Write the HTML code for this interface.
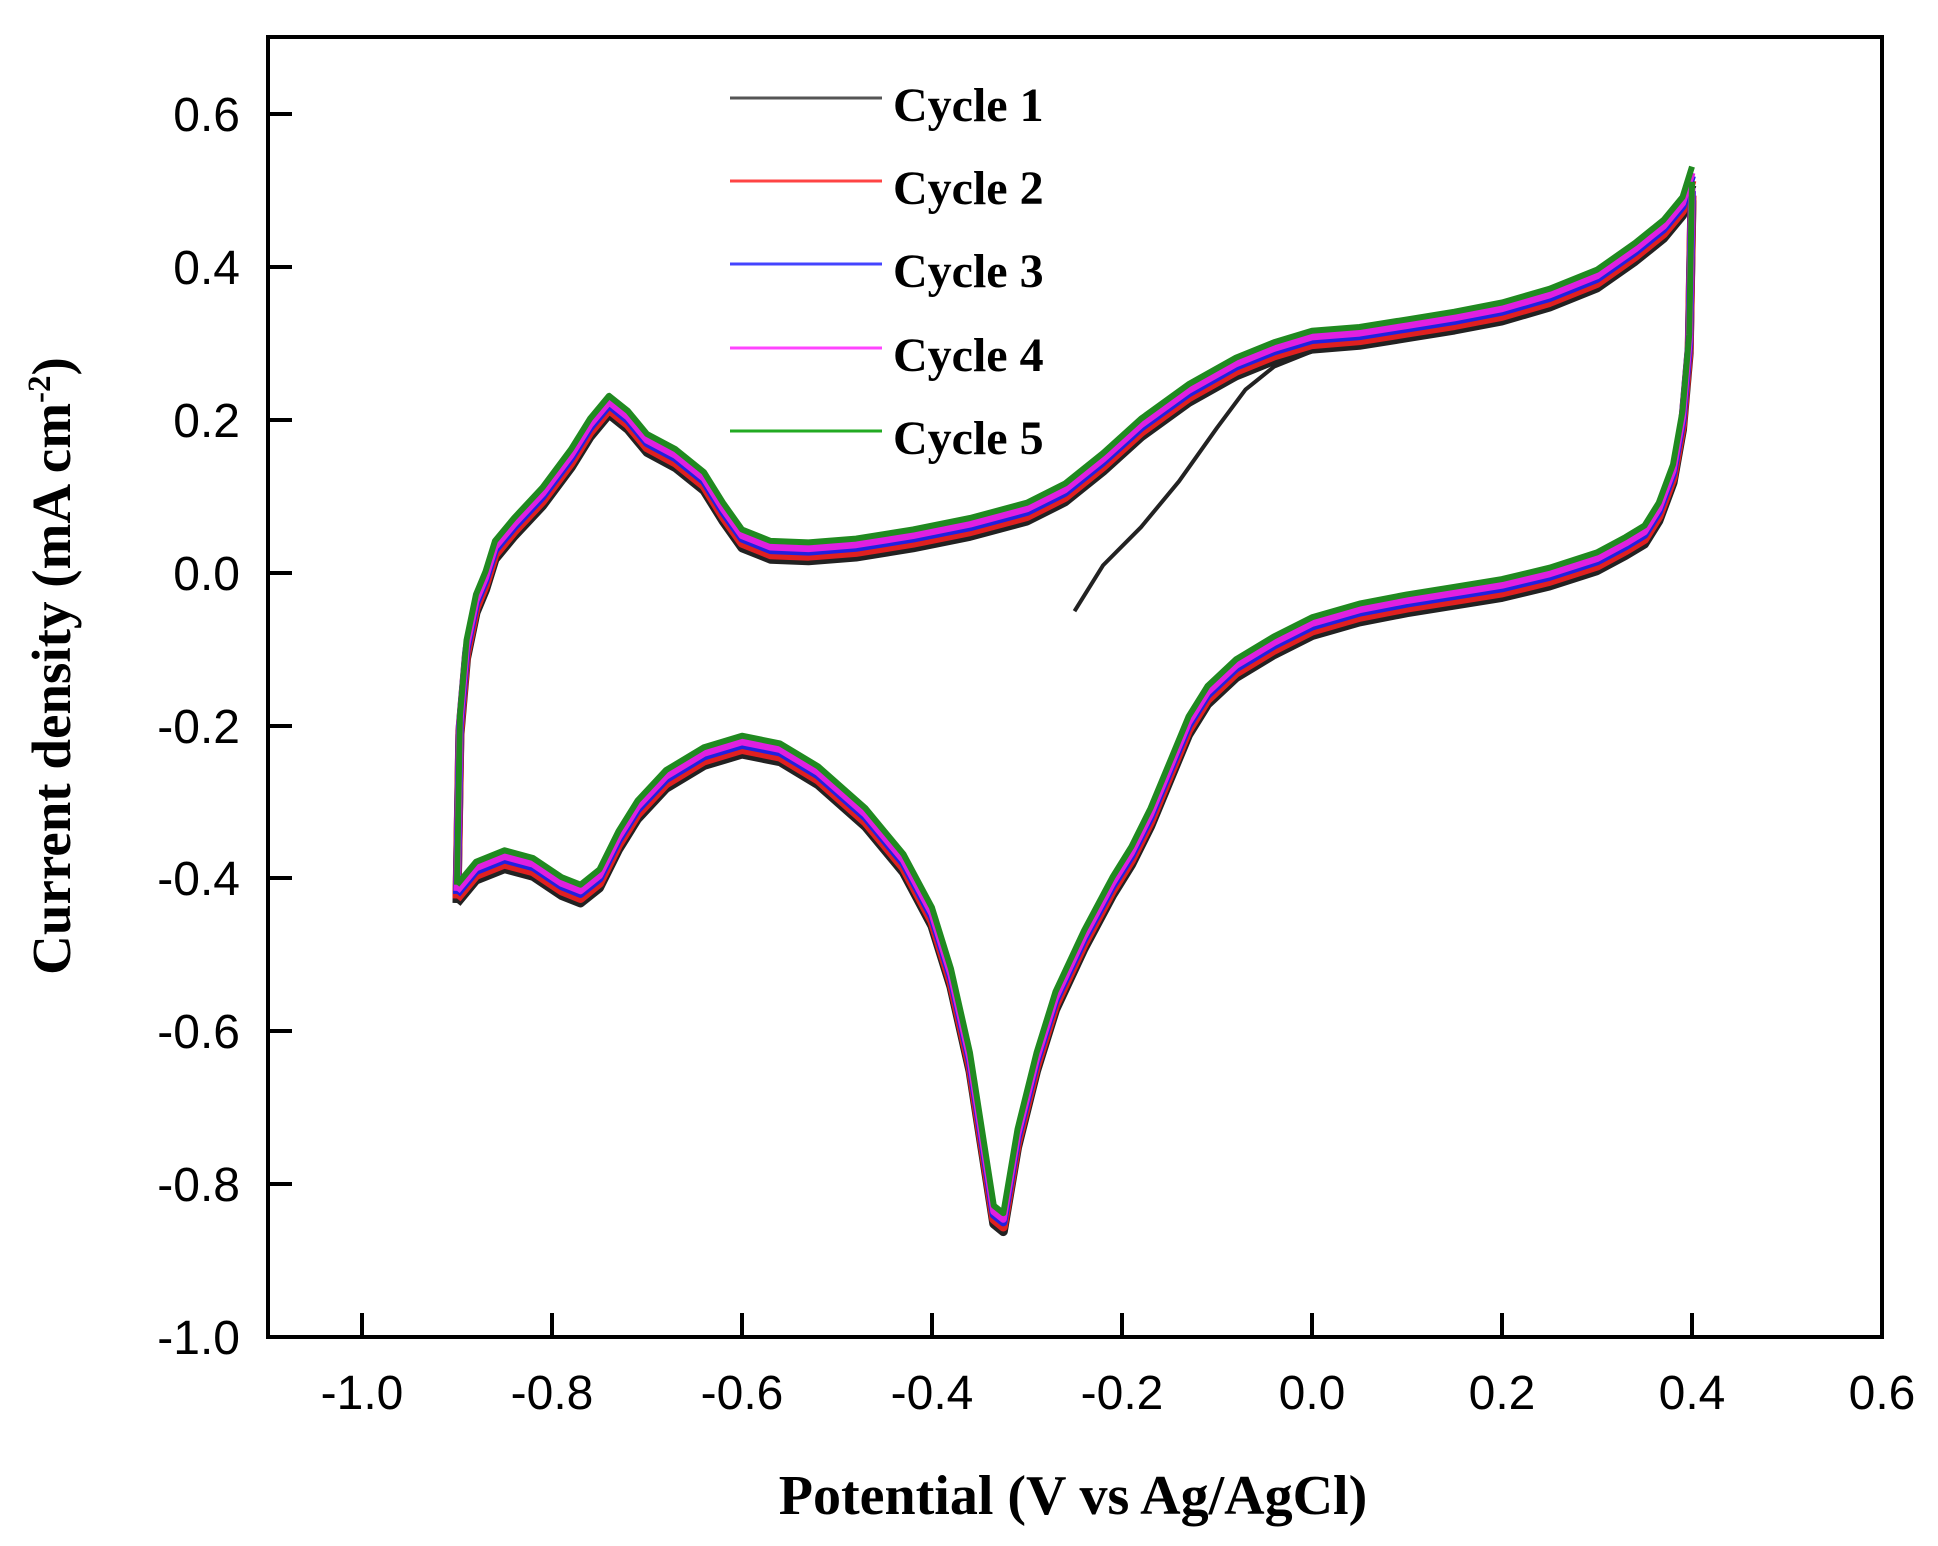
<!DOCTYPE html>
<html><head><meta charset="utf-8"><style>
body{margin:0;background:#fff}
svg{display:block}
.t{font-family:"Liberation Sans",sans-serif;font-size:48px;fill:#000}
.b{font-family:"Liberation Serif",serif;font-weight:bold;fill:#000}
</style></head><body>
<svg id="s" width="1938" height="1546" viewBox="0 0 1938 1546" xmlns="http://www.w3.org/2000/svg">
<rect x="268" y="37" width="1614" height="1300" fill="none" stroke="#000" stroke-width="4"/>
<g stroke="#000" stroke-width="4">
<line x1="362" y1="1337" x2="362" y2="1313"/><line x1="552" y1="1337" x2="552" y2="1313"/><line x1="742" y1="1337" x2="742" y2="1313"/><line x1="932" y1="1337" x2="932" y2="1313"/><line x1="1122" y1="1337" x2="1122" y2="1313"/><line x1="1312" y1="1337" x2="1312" y2="1313"/><line x1="1502" y1="1337" x2="1502" y2="1313"/><line x1="1692" y1="1337" x2="1692" y2="1313"/>
<line x1="268" y1="114" x2="292" y2="114"/><line x1="268" y1="267" x2="292" y2="267"/><line x1="268" y1="420" x2="292" y2="420"/><line x1="268" y1="573" x2="292" y2="573"/><line x1="268" y1="726" x2="292" y2="726"/><line x1="268" y1="878" x2="292" y2="878"/><line x1="268" y1="1031" x2="292" y2="1031"/><line x1="268" y1="1184" x2="292" y2="1184"/>
</g>
<g class="t" text-anchor="end">
<text x="240" y="131">0.6</text><text x="240" y="284">0.4</text><text x="240" y="437">0.2</text><text x="240" y="590">0.0</text><text x="240" y="743">-0.2</text><text x="240" y="895">-0.4</text><text x="240" y="1048">-0.6</text><text x="240" y="1201">-0.8</text><text x="240" y="1354">-1.0</text>
</g>
<g class="t" text-anchor="middle">
<text x="362" y="1409">-1.0</text><text x="552" y="1409">-0.8</text><text x="742" y="1409">-0.6</text><text x="932" y="1409">-0.4</text><text x="1122" y="1409">-0.2</text><text x="1312" y="1409">0.0</text><text x="1502" y="1409">0.2</text><text x="1692" y="1409">0.4</text><text x="1882" y="1409">0.6</text>
</g>
<text class="b" x="1073" y="1514" font-size="56" text-anchor="middle">Potential (V vs Ag/AgCl)</text>
<text class="b" font-size="55" text-anchor="middle" transform="translate(70,666) rotate(-90)">Current density (mA cm<tspan dy="-20" font-size="33">-2</tspan><tspan dy="20">)</tspan></text>
<g id="curves"></g>
<g stroke-width="3">
<line x1="730" y1="98" x2="882" y2="98" stroke="#555"/>
<line x1="730" y1="181" x2="882" y2="181" stroke="#f44"/>
<line x1="730" y1="264" x2="882" y2="264" stroke="#44f"/>
<line x1="730" y1="348" x2="882" y2="348" stroke="#f4f"/>
<line x1="730" y1="431" x2="882" y2="431" stroke="#2a2"/>
</g>
<g class="b" font-size="48">
<text x="893" y="121">Cycle 1</text><text x="893" y="204">Cycle 2</text><text x="893" y="287">Cycle 3</text><text x="893" y="371">Cycle 4</text><text x="893" y="454">Cycle 5</text>
</g>
</svg>
<script>
var up=[-0.9,-0.42,-0.897,-0.2,-0.89,-0.1,-0.88,-0.04,-0.87,-0.01,-0.86,0.03,-0.84,0.06,-0.81,0.1,-0.78,0.15,-0.76,0.19,-0.74,0.22,-0.72,0.2,-0.7,0.17,-0.67,0.15,-0.64,0.12,-0.62,0.08,-0.6,0.045,-0.57,0.03,-0.53,0.028,-0.48,0.033,-0.42,0.045,-0.36,0.06,-0.3,0.08,-0.26,0.105,-0.22,0.145,-0.18,0.19,-0.13,0.235,-0.08,0.27,-0.04,0.29,0,0.305,0.05,0.31,0.1,0.32,0.15,0.33,0.2,0.342,0.25,0.36,0.3,0.385,0.34,0.42,0.37,0.45,0.39,0.48,0.4,0.52];
var dn=[0.4,0.5,0.397,0.3,0.39,0.2,0.38,0.13,0.365,0.08,0.35,0.05,0.33,0.035,0.3,0.015,0.25,-0.005,0.2,-0.02,0.15,-0.03,0.1,-0.04,0.05,-0.052,0,-0.07,-0.04,-0.095,-0.08,-0.125,-0.11,-0.16,-0.13,-0.2,-0.15,-0.26,-0.17,-0.32,-0.19,-0.37,-0.21,-0.41,-0.24,-0.48,-0.27,-0.56,-0.29,-0.64,-0.31,-0.74,-0.325,-0.85,-0.335,-0.84,-0.345,-0.76,-0.36,-0.64,-0.38,-0.53,-0.4,-0.45,-0.43,-0.38,-0.47,-0.32,-0.52,-0.265,-0.56,-0.235,-0.6,-0.225,-0.64,-0.24,-0.68,-0.27,-0.71,-0.31,-0.73,-0.35,-0.75,-0.4,-0.77,-0.42,-0.79,-0.41,-0.82,-0.385,-0.85,-0.375,-0.88,-0.39,-0.9,-0.42];
var c1=[-0.25,-0.05,-0.22,0.01,-0.18,0.06,-0.14,0.12,-0.1,0.19,-0.07,0.24,-0.04,0.27,0,0.29,0.03,0.3];
var g=document.getElementById('curves'),NS='http://www.w3.org/2000/svg';
function pl(a,off,col,w){var p=[];for(var i=0;i<a.length;i+=2){p.push((1312+950*a[i]).toFixed(1)+','+(573-764*(a[i+1]+off)).toFixed(1));}
var e=document.createElementNS(NS,'polyline');e.setAttribute('points',p.join(' '));e.setAttribute('fill','none');e.setAttribute('stroke',col);e.setAttribute('stroke-width',w);e.setAttribute('stroke-linejoin','round');g.appendChild(e);}
pl(c1,0,'#222',4);
var S=[[-0.012,'#222',9],[-0.006,'#e02020',9],[0,'#2020e0',8],[0.004,'#e020e0',7],[0.012,'#208a20',6]];
S.forEach(function(s){pl(up,s[0],s[1],s[2]);pl(dn,s[0],s[1],s[2]);});
</script>
</body></html>
